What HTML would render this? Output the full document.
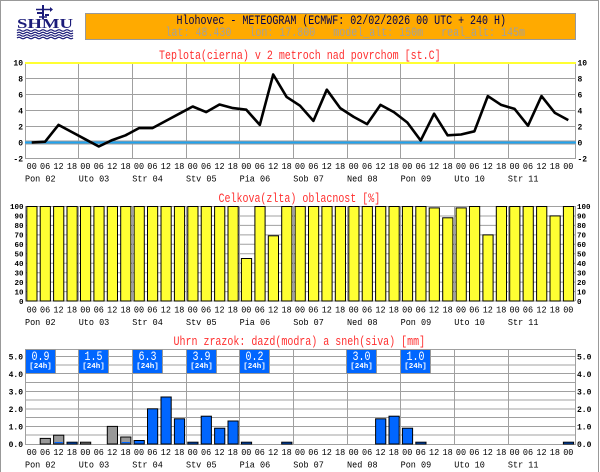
<!DOCTYPE html>
<html><head><meta charset="utf-8"><style>
html,body{margin:0;padding:0;background:#fff;}
svg{display:block;}
text{font-family:"Liberation Mono",monospace;}
</style></head><body>
<svg width="600" height="472" viewBox="0 0 600 472" xmlns="http://www.w3.org/2000/svg">
<rect x="0" y="0" width="600" height="472" fill="#fff"/>
<path d="M0.5,472 V0.5 H598.5 V472" fill="none" stroke="#999" stroke-width="1"/>

<!-- Logo -->
<g fill="#1c1c7a" stroke="#1c1c7a">
<line x1="43" y1="5" x2="43" y2="19" stroke-width="2"/>
<line x1="36" y1="9.5" x2="50" y2="9.5" stroke-width="1.5"/>
<path d="M50,7 L53,9.5 L50,12 Z" stroke="none"/>
<rect x="37" y="12" width="5" height="2" stroke="none"/>
<rect x="45" y="14" width="4" height="2" stroke="none"/>
<line x1="39" y1="17" x2="47" y2="17" stroke-width="1.5"/>
</g>
<text x="17" y="28" font-family="Liberation Serif,serif" font-weight="bold" font-size="14" textLength="56" lengthAdjust="spacingAndGlyphs" fill="#1c1c7a" style="font-family:'Liberation Serif',serif">SHMU</text>
<g fill="none" stroke="#1c1c7a" stroke-width="1.3">
<path d="M17,30.5 q2,-1.5 4,0 t4,0 t4,0 t4,0 t4,0 t4,0 t4,0 t4,0 t4,0 t4,0 t4,0 t4,0 t4,0 t4,0"/>
<path d="M17,33 q2,-1.5 4,0 t4,0 t4,0 t4,0 t4,0 t4,0 t4,0 t4,0 t4,0 t4,0 t4,0 t4,0 t4,0 t4,0"/>
<path d="M17,35.5 q2,-1.5 4,0 t4,0 t4,0 t4,0 t4,0 t4,0 t4,0 t4,0 t4,0 t4,0 t4,0 t4,0 t4,0 t4,0"/>
<path d="M17,38 q2,-1.5 4,0 t4,0 t4,0 t4,0 t4,0 t4,0 t4,0 t4,0 t4,0 t4,0 t4,0 t4,0 t4,0 t4,0"/>
</g>

<!-- Header box -->
<rect x="85.5" y="13.5" width="490" height="26" fill="#ffaa00" stroke="#999" stroke-width="1"/>
<text transform="translate(176.5,24) scale(1,1.3)" font-size="10" fill="#000050" xml:space="preserve">Hlohovec - METEOGRAM (ECMWF: 02/02/2026 00 UTC + 240 H)</text>
<text transform="translate(165.5,36) scale(1,1.3)" font-size="10" fill="#a0a0a0" xml:space="preserve">lat: 48.430   lon: 17.800   model_alt: 150m   real_alt: 145m</text>

<!-- ================= TEMPERATURE ================= -->
<text transform="translate(159,59) scale(1,1.3)" font-size="10" fill="#ff3030" xml:space="preserve">Teplota(cierna) v 2 metroch nad povrchom [st.C]</text>
<g stroke="#a0a0a0" stroke-width="1" fill="none">
<path d="M25,78.5H575 M25,94.5H575 M25,110.5H575 M25,126.5H575 M25,158.5H575"/>
<path d="M25.5,62V159 M78.5,62V159 M132.5,62V159 M186.5,62V159 M239.5,62V159 M293.5,62V159 M347.5,62V159 M400.5,62V159 M454.5,62V159 M508.5,62V159 M575.5,62V159"/>
</g>
<rect x="25" y="62" width="551" height="2" fill="#ffff33"/>
<rect x="25" y="140.5" width="551" height="4" fill="#999"/>
<rect x="25" y="141.5" width="551" height="2" fill="#20a4f0"/>
<polyline fill="none" stroke="#000" stroke-width="2.6" stroke-linejoin="round" points="31.7,142.5 45.1,141.7 58.5,124.9 72.0,132.1 85.4,139.3 98.8,146.5 112.2,140.1 125.6,135.3 139.0,128.1 152.4,128.1 165.9,120.9 179.3,113.7 192.7,106.5 206.1,112.1 219.5,104.5 232.9,108.1 246.3,109.7 259.8,124.9 273.2,74.5 286.6,96.9 300.0,105.7 313.4,120.9 326.8,89.7 340.2,108.1 353.7,116.9 367.1,124.1 380.5,104.9 393.9,112.1 407.3,122.5 420.7,140.5 434.1,113.7 447.6,135.3 461.0,134.5 474.4,131.3 487.8,96.1 501.2,104.9 514.6,108.9 528.0,125.7 541.5,96.1 554.9,112.9 568.3,120.1"/>
<g font-size="8" font-weight="bold" fill="#000">
<g text-anchor="end">
<text x="23" y="65.5">10</text><text x="23" y="81.5">8</text><text x="23" y="97.5">6</text><text x="23" y="113.5">4</text><text x="23" y="129.5">2</text><text x="23" y="145.5">0</text><text x="23" y="161.5">-2</text>
</g>
<text x="577.5" y="65.5">10</text><text x="577.5" y="81.5">8</text><text x="577.5" y="97.5">6</text><text x="577.5" y="113.5">4</text><text x="577.5" y="129.5">2</text><text x="577.5" y="145.5">0</text><text x="577.5" y="161.5">-2</text>
</g>
<text transform="translate(0,169) scale(1,1.12)" font-size="8.5" fill="#000" text-anchor="middle"><tspan x="31.7">00</tspan><tspan x="45.1">06</tspan><tspan x="58.5">12</tspan><tspan x="72.0">18</tspan><tspan x="85.4">00</tspan><tspan x="98.8">06</tspan><tspan x="112.2">12</tspan><tspan x="125.6">18</tspan><tspan x="139.0">00</tspan><tspan x="152.4">06</tspan><tspan x="165.9">12</tspan><tspan x="179.3">18</tspan><tspan x="192.7">00</tspan><tspan x="206.1">06</tspan><tspan x="219.5">12</tspan><tspan x="232.9">18</tspan><tspan x="246.3">00</tspan><tspan x="259.8">06</tspan><tspan x="273.2">12</tspan><tspan x="286.6">18</tspan><tspan x="300.0">00</tspan><tspan x="313.4">06</tspan><tspan x="326.8">12</tspan><tspan x="340.2">18</tspan><tspan x="353.7">00</tspan><tspan x="367.1">06</tspan><tspan x="380.5">12</tspan><tspan x="393.9">18</tspan><tspan x="407.3">00</tspan><tspan x="420.7">06</tspan><tspan x="434.1">12</tspan><tspan x="447.6">18</tspan><tspan x="461.0">00</tspan><tspan x="474.4">06</tspan><tspan x="487.8">12</tspan><tspan x="501.2">18</tspan><tspan x="514.6">00</tspan><tspan x="528.0">06</tspan><tspan x="541.5">12</tspan><tspan x="554.9">18</tspan><tspan x="568.3">00</tspan></text>
<text transform="translate(0,181.5) scale(1,1.12)" font-size="8.5" fill="#000" xml:space="preserve"><tspan x="25">Pon 02</tspan><tspan x="78.7">Uto 03</tspan><tspan x="132.3">Str 04</tspan><tspan x="186">Stv 05</tspan><tspan x="239.6">Pia 06</tspan><tspan x="293.3">Sob 07</tspan><tspan x="347">Ned 08</tspan><tspan x="400.6">Pon 09</tspan><tspan x="454.3">Uto 10</tspan><tspan x="507.9">Str 11</tspan></text>

<!-- ================= CLOUDS ================= -->
<text transform="translate(218.5,202) scale(1,1.3)" font-size="10" fill="#ff3030" xml:space="preserve">Celkova(zlta) oblacnost [%]</text>
<g stroke="#a0a0a0" stroke-width="1" fill="none">
<path d="M25,206.5H575 M25,216H575 M25,225.4H575 M25,234.9H575 M25,244.3H575 M25,253.8H575 M25,263.2H575 M25,272.7H575 M25,282.1H575 M25,291.6H575 M25,301H575"/>
<path d="M25.5,206V301 M78.5,206V301 M132.5,206V301 M186.5,206V301 M239.5,206V301 M293.5,206V301 M347.5,206V301 M400.5,206V301 M454.5,206V301 M508.5,206V301 M575.5,206V301"/>
</g>
<g fill="#ffff33" stroke="#000" stroke-width="1">
<rect x="26.8" y="206.5" width="10.2" height="94.5"/><rect x="40.2" y="206.5" width="10.2" height="94.5"/><rect x="53.6" y="206.5" width="10.2" height="94.5"/><rect x="67.0" y="206.5" width="10.2" height="94.5"/>
<rect x="80.5" y="206.5" width="10.2" height="94.5"/><rect x="93.9" y="206.5" width="10.2" height="94.5"/><rect x="107.3" y="206.5" width="10.2" height="94.5"/><rect x="120.7" y="206.5" width="10.2" height="94.5"/>
<rect x="134.1" y="206.5" width="10.2" height="94.5"/><rect x="147.5" y="206.5" width="10.2" height="94.5"/><rect x="161.0" y="206.5" width="10.2" height="94.5"/><rect x="174.4" y="206.5" width="10.2" height="94.5"/>
<rect x="187.8" y="206.5" width="10.2" height="94.5"/><rect x="201.2" y="206.5" width="10.2" height="94.5"/><rect x="214.6" y="206.5" width="10.2" height="94.5"/><rect x="228.0" y="206.5" width="10.2" height="94.5"/>
<rect x="241.4" y="258.5" width="10.2" height="42.5"/><rect x="254.9" y="206.5" width="10.2" height="94.5"/><rect x="268.3" y="235.8" width="10.2" height="65.2"/><rect x="281.7" y="206.5" width="10.2" height="94.5"/>
<rect x="295.1" y="206.5" width="10.2" height="94.5"/><rect x="308.5" y="206.5" width="10.2" height="94.5"/><rect x="321.9" y="206.5" width="10.2" height="94.5"/><rect x="335.3" y="206.5" width="10.2" height="94.5"/>
<rect x="348.8" y="206.5" width="10.2" height="94.5"/><rect x="362.2" y="206.5" width="10.2" height="94.5"/><rect x="375.6" y="206.5" width="10.2" height="94.5"/><rect x="389.0" y="206.5" width="10.2" height="94.5"/>
<rect x="402.4" y="206.5" width="10.2" height="94.5"/><rect x="415.8" y="206.5" width="10.2" height="94.5"/><rect x="429.2" y="207.9" width="10.2" height="93.1"/><rect x="442.7" y="217.8" width="10.2" height="83.2"/>
<rect x="456.1" y="207.9" width="10.2" height="93.1"/><rect x="469.5" y="206.5" width="10.2" height="94.5"/><rect x="482.9" y="234.9" width="10.2" height="66.1"/><rect x="496.3" y="206.5" width="10.2" height="94.5"/>
<rect x="509.7" y="206.5" width="10.2" height="94.5"/><rect x="523.1" y="206.5" width="10.2" height="94.5"/><rect x="536.6" y="206.5" width="10.2" height="94.5"/><rect x="550.0" y="215.9" width="10.2" height="85.1"/>
<rect x="563.4" y="206.5" width="10.2" height="94.5"/>
</g>
<g font-size="7.5" font-weight="bold" fill="#000">
<g text-anchor="end">
<text x="23.5" y="209">100</text><text x="23.5" y="218.5">90</text><text x="23.5" y="228">80</text><text x="23.5" y="237.5">70</text><text x="23.5" y="247">60</text><text x="23.5" y="256.5">50</text><text x="23.5" y="266">40</text><text x="23.5" y="275.5">30</text><text x="23.5" y="285">20</text><text x="23.5" y="294.5">10</text><text x="23.5" y="304">0</text>
</g>
<text x="577" y="209">100</text><text x="577" y="218.5">90</text><text x="577" y="228">80</text><text x="577" y="237.5">70</text><text x="577" y="247">60</text><text x="577" y="256.5">50</text><text x="577" y="266">40</text><text x="577" y="275.5">30</text><text x="577" y="285">20</text><text x="577" y="294.5">10</text><text x="577" y="304">0</text>
</g>
<text transform="translate(0,312.5) scale(1,1.12)" font-size="8.5" fill="#000" text-anchor="middle"><tspan x="31.7">00</tspan><tspan x="45.1">06</tspan><tspan x="58.5">12</tspan><tspan x="72.0">18</tspan><tspan x="85.4">00</tspan><tspan x="98.8">06</tspan><tspan x="112.2">12</tspan><tspan x="125.6">18</tspan><tspan x="139.0">00</tspan><tspan x="152.4">06</tspan><tspan x="165.9">12</tspan><tspan x="179.3">18</tspan><tspan x="192.7">00</tspan><tspan x="206.1">06</tspan><tspan x="219.5">12</tspan><tspan x="232.9">18</tspan><tspan x="246.3">00</tspan><tspan x="259.8">06</tspan><tspan x="273.2">12</tspan><tspan x="286.6">18</tspan><tspan x="300.0">00</tspan><tspan x="313.4">06</tspan><tspan x="326.8">12</tspan><tspan x="340.2">18</tspan><tspan x="353.7">00</tspan><tspan x="367.1">06</tspan><tspan x="380.5">12</tspan><tspan x="393.9">18</tspan><tspan x="407.3">00</tspan><tspan x="420.7">06</tspan><tspan x="434.1">12</tspan><tspan x="447.6">18</tspan><tspan x="461.0">00</tspan><tspan x="474.4">06</tspan><tspan x="487.8">12</tspan><tspan x="501.2">18</tspan><tspan x="514.6">00</tspan><tspan x="528.0">06</tspan><tspan x="541.5">12</tspan><tspan x="554.9">18</tspan><tspan x="568.3">00</tspan></text>
<text transform="translate(0,325) scale(1,1.12)" font-size="8.5" fill="#000" xml:space="preserve"><tspan x="25">Pon 02</tspan><tspan x="78.7">Uto 03</tspan><tspan x="132.3">Str 04</tspan><tspan x="186">Stv 05</tspan><tspan x="239.6">Pia 06</tspan><tspan x="293.3">Sob 07</tspan><tspan x="347">Ned 08</tspan><tspan x="400.6">Pon 09</tspan><tspan x="454.3">Uto 10</tspan><tspan x="507.9">Str 11</tspan></text>

<!-- ================= PRECIPITATION ================= -->
<text transform="translate(173.5,345) scale(1,1.3)" font-size="10" fill="#ff3030" xml:space="preserve">Uhrn zrazok: dazd(modra) a sneh(siva) [mm]</text>
<g stroke="#a0a0a0" stroke-width="1" fill="none">
<path d="M25,349.5H575 M25,356.5H575 M25,365H575 M25,373.5H575 M25,382.5H575 M25,391.5H575 M25,400H575 M25,409H575 M25,417.5H575 M25,426.5H575 M25,435H575 M25,444.5H575"/>
<path d="M25.5,349V445 M78.5,349V445 M132.5,349V445 M186.5,349V445 M239.5,349V445 M293.5,349V445 M347.5,349V445 M400.5,349V445 M454.5,349V445 M508.5,349V445 M575.5,349V445"/>
</g>
<g stroke="#000" stroke-width="1">
<rect x="40.2" y="438.4" width="10.2" height="5.6" fill="#999"/>
<rect x="53.6" y="435.2" width="10.2" height="8.8" fill="#999"/>
<rect x="67.0" y="442.2" width="10.2" height="1.8" fill="#0066ff"/>
<rect x="80.5" y="442.2" width="10.2" height="1.8" fill="#999"/>
<rect x="107.3" y="426.4" width="10.2" height="17.6" fill="#999"/>
<rect x="120.7" y="437" width="10.2" height="7" fill="#999"/>
<rect x="134.1" y="440.5" width="10.2" height="3.5" fill="#0066ff"/>
<rect x="147.5" y="408.8" width="10.2" height="35.2" fill="#0066ff"/>
<rect x="161.0" y="397" width="10.2" height="47" fill="#0066ff"/>
<rect x="174.4" y="418.8" width="10.2" height="25.2" fill="#0066ff"/>
<rect x="187.8" y="442.2" width="10.2" height="1.8" fill="#0066ff"/>
<rect x="201.2" y="416.2" width="10.2" height="27.8" fill="#0066ff"/>
<rect x="214.6" y="428.2" width="10.2" height="15.8" fill="#0066ff"/>
<rect x="228.0" y="421" width="10.2" height="23" fill="#0066ff"/>
<rect x="241.4" y="442.2" width="10.2" height="1.8" fill="#0066ff"/>
<rect x="281.7" y="442.2" width="10.2" height="1.8" fill="#0066ff"/>
<rect x="375.6" y="418.8" width="10.2" height="25.2" fill="#0066ff"/>
<rect x="389.0" y="416.2" width="10.2" height="27.8" fill="#0066ff"/>
<rect x="402.4" y="428.2" width="10.2" height="15.8" fill="#0066ff"/>
<rect x="415.8" y="442.2" width="10.2" height="1.8" fill="#0066ff"/>
<rect x="563.4" y="442.2" width="10.2" height="1.8" fill="#0066ff"/>
</g>
<rect x="54.6" y="442" width="8.2" height="1.2" fill="#0066ff"/>
<rect x="121.7" y="442" width="8.2" height="1.2" fill="#0066ff"/>
<!-- daily boxes -->
<g fill="#0066ff" stroke="#999" stroke-width="1">
<rect x="25.5" y="349.5" width="30" height="24"/>
<rect x="78.5" y="349.5" width="30" height="24"/>
<rect x="132.5" y="349.5" width="30" height="24"/>
<rect x="186.5" y="349.5" width="30" height="24"/>
<rect x="239.5" y="349.5" width="30" height="24"/>
<rect x="346.5" y="349.5" width="30" height="24"/>
<rect x="400.5" y="349.5" width="30" height="24"/>
</g>
<g fill="#fff" text-anchor="middle">
<text transform="translate(40.5,360) scale(1,1.25)" font-size="10">0.9</text>
<text transform="translate(93.5,360) scale(1,1.25)" font-size="10">1.5</text>
<text transform="translate(147.5,360) scale(1,1.25)" font-size="10">6.3</text>
<text transform="translate(201.5,360) scale(1,1.25)" font-size="10">3.9</text>
<text transform="translate(254.5,360) scale(1,1.25)" font-size="10">0.2</text>
<text transform="translate(361.5,360) scale(1,1.25)" font-size="10">3.0</text>
<text transform="translate(415.5,360) scale(1,1.25)" font-size="10">1.0</text>
<g font-size="7.5" font-weight="bold">
<text x="40.5" y="368">[24h]</text>
<text x="93.5" y="368">[24h]</text>
<text x="147.5" y="368">[24h]</text>
<text x="201.5" y="368">[24h]</text>
<text x="254.5" y="368">[24h]</text>
<text x="361.5" y="368">[24h]</text>
<text x="415.5" y="368">[24h]</text>
</g>
</g>
<g font-size="8" font-weight="bold" fill="#000">
<g text-anchor="end">
<text x="23" y="359.3">5.0</text><text x="23" y="376.8">4.0</text><text x="23" y="394.4">3.0</text><text x="23" y="412">2.0</text><text x="23" y="429.6">1.0</text><text x="23" y="447.2">0.0</text>
</g>
<text x="577" y="359.3">5.0</text><text x="577" y="376.8">4.0</text><text x="577" y="394.4">3.0</text><text x="577" y="412">2.0</text><text x="577" y="429.6">1.0</text><text x="577" y="447.2">0.0</text>
</g>
<text transform="translate(0,455) scale(1,1.12)" font-size="8.5" fill="#000" text-anchor="middle"><tspan x="31.7">00</tspan><tspan x="45.1">06</tspan><tspan x="58.5">12</tspan><tspan x="72.0">18</tspan><tspan x="85.4">00</tspan><tspan x="98.8">06</tspan><tspan x="112.2">12</tspan><tspan x="125.6">18</tspan><tspan x="139.0">00</tspan><tspan x="152.4">06</tspan><tspan x="165.9">12</tspan><tspan x="179.3">18</tspan><tspan x="192.7">00</tspan><tspan x="206.1">06</tspan><tspan x="219.5">12</tspan><tspan x="232.9">18</tspan><tspan x="246.3">00</tspan><tspan x="259.8">06</tspan><tspan x="273.2">12</tspan><tspan x="286.6">18</tspan><tspan x="300.0">00</tspan><tspan x="313.4">06</tspan><tspan x="326.8">12</tspan><tspan x="340.2">18</tspan><tspan x="353.7">00</tspan><tspan x="367.1">06</tspan><tspan x="380.5">12</tspan><tspan x="393.9">18</tspan><tspan x="407.3">00</tspan><tspan x="420.7">06</tspan><tspan x="434.1">12</tspan><tspan x="447.6">18</tspan><tspan x="461.0">00</tspan><tspan x="474.4">06</tspan><tspan x="487.8">12</tspan><tspan x="501.2">18</tspan><tspan x="514.6">00</tspan><tspan x="528.0">06</tspan><tspan x="541.5">12</tspan><tspan x="554.9">18</tspan><tspan x="568.3">00</tspan></text>
<text transform="translate(0,467.5) scale(1,1.12)" font-size="8.5" fill="#000" xml:space="preserve"><tspan x="25">Pon 02</tspan><tspan x="78.7">Uto 03</tspan><tspan x="132.3">Str 04</tspan><tspan x="186">Stv 05</tspan><tspan x="239.6">Pia 06</tspan><tspan x="293.3">Sob 07</tspan><tspan x="347">Ned 08</tspan><tspan x="400.6">Pon 09</tspan><tspan x="454.3">Uto 10</tspan><tspan x="507.9">Str 11</tspan></text>
</svg>
</body></html>
